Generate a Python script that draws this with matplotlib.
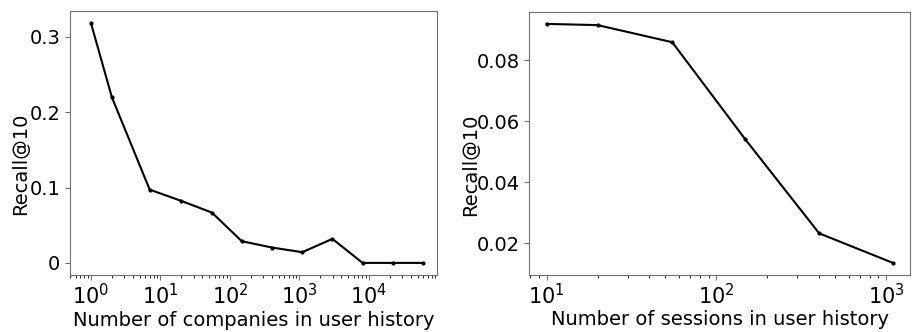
import matplotlib
matplotlib.use("Agg")
import matplotlib.pyplot as plt

# left panel: recall vs number of companies in history
companies = [1, 2, 7, 20, 55, 148, 403, 1097, 2981, 8103, 22026, 59874]
recall_companies = [0.3186, 0.220, 0.0973, 0.0823, 0.0668, 0.0288,
                    0.0204, 0.0142, 0.0319, 0.0, 0.0, 0.0]

# right panel: recall vs number of sessions in history
sessions = [10, 20, 55, 148, 403, 1097]
recall_sessions = [0.0919, 0.0915, 0.0859, 0.0541, 0.0233, 0.0136]

plt.rcParams['font.size'] = 14

fig = plt.figure(figsize=(9.14, 3.32), dpi=100)
ax1 = fig.add_axes([0.0766, 0.172, 0.4014, 0.795])
ax2 = fig.add_axes([0.579, 0.172, 0.417, 0.792])

ax1.plot(companies, recall_companies, color='black', marker='o', markersize=2)
ax1.set_xscale('log')
ax1.set_xlim(0.5, 95000)
ax1.set_yticks([0, 0.1, 0.2, 0.3])
ax1.set_yticklabels(['0', '0.1', '0.2', '0.3'])
ax1.set_xlabel('Number of companies in user history')
ax1.set_ylabel('Recall@10')
ax1.yaxis.set_label_coords(-0.11, 0.42)

ax2.plot(sessions, recall_sessions, color='black', marker='o', markersize=2)
ax2.set_xscale('log')
ax2.set_yticks([0.02, 0.04, 0.06, 0.08])
ax2.set_xlabel('Number of sessions in user history')
ax2.set_ylabel('Recall@10')
ax2.yaxis.set_label_coords(-0.13, 0.42)

for ax in (ax1, ax2):
    ax.xaxis.set_label_coords(0.5, -0.135)
    for s in ax.spines.values():
        s.set_color('#707070')
    ax.tick_params(colors='#707070', labelcolor='black')
    ax.tick_params(axis='y', labelsize=14)
    ax.tick_params(axis='x', labelsize=15, pad=2)

fig.savefig('out.png', dpi=100)
